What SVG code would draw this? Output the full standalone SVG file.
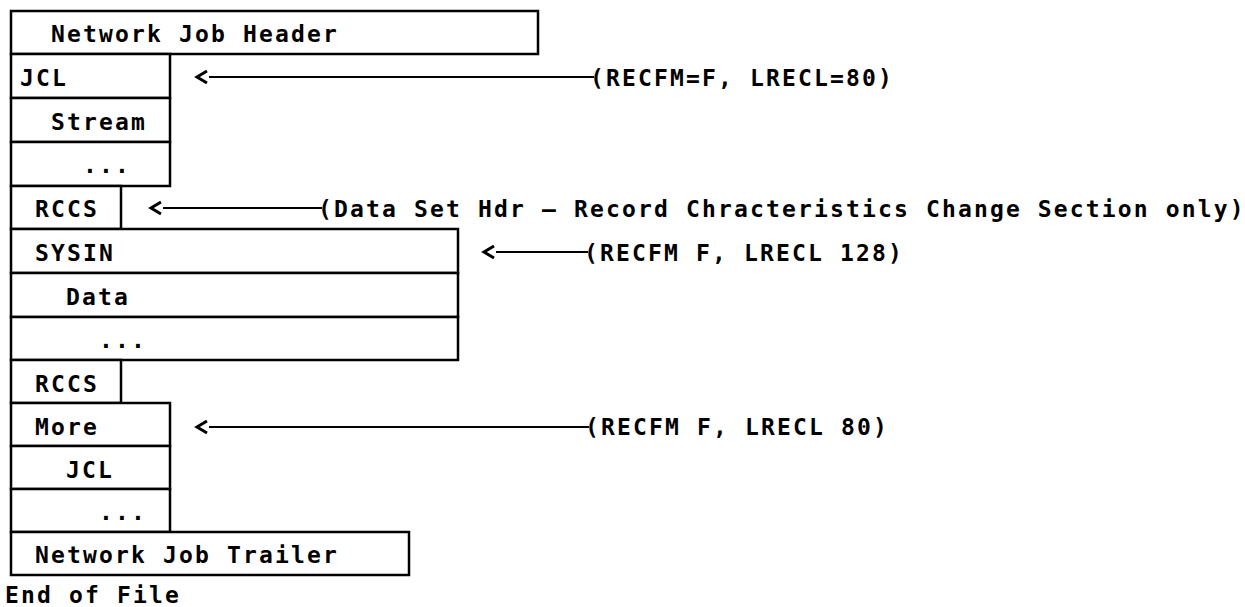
<svg xmlns="http://www.w3.org/2000/svg" width="1245" height="607" viewBox="0 0 1245 607">
<style>
.b{fill:#fff;stroke:#000;stroke-width:2.5}
.t{font-family:"DejaVu Sans Mono","Liberation Mono",monospace;font-weight:bold;font-size:23px;letter-spacing:2.15px;fill:#000}
.c{stroke:#000;stroke-width:2;fill:none;marker-start:url(#lt)}
</style>
<defs>
<marker id="lt" markerUnits="userSpaceOnUse" orient="0" refX="0" refY="0" markerWidth="20" markerHeight="20" overflow="visible">
<path d="M-2,-6 L-12,0 L-2,6" fill="none" stroke="#000" stroke-width="3" stroke-linejoin="miter"/>
</marker>
</defs>
<rect width="1245" height="607" fill="#fff"/>
<g id="header"><rect class="b" x="11" y="11" width="527" height="43"/><text class="t" x="51" y="42">Network Job Header</text></g>
<g id="jcl"><rect class="b" x="11" y="54" width="159" height="44"/><text class="t" x="20" y="86">JCL</text></g>
<g id="stream"><rect class="b" x="11" y="98" width="159" height="44"/><text class="t" x="51" y="130">Stream</text></g>
<g id="dots1"><rect class="b" x="11" y="142" width="159" height="44"/><text class="t" x="83" y="173">...</text></g>
<g id="rccs1"><rect class="b" x="11" y="186" width="110" height="43"/><text class="t" x="35" y="217">RCCS</text></g>
<g id="sysin"><rect class="b" x="11" y="229" width="447" height="44"/><text class="t" x="35" y="261">SYSIN</text></g>
<g id="data"><rect class="b" x="11" y="273" width="447" height="44"/><text class="t" x="66" y="305">Data</text></g>
<g id="dots2"><rect class="b" x="11" y="317" width="447" height="43"/><text class="t" x="99" y="348">...</text></g>
<g id="rccs2"><rect class="b" x="11" y="360" width="110" height="43"/><text class="t" x="35" y="392">RCCS</text></g>
<g id="more"><rect class="b" x="11" y="403" width="159" height="43"/><text class="t" x="35" y="435">More</text></g>
<g id="jcl2"><rect class="b" x="11" y="446" width="159" height="43"/><text class="t" x="66" y="478">JCL</text></g>
<g id="dots3"><rect class="b" x="11" y="489" width="159" height="43"/><text class="t" x="99" y="520">...</text></g>
<g id="trailer"><rect class="b" x="11" y="532" width="398" height="43"/><text class="t" x="35" y="563">Network Job Trailer</text></g>
<g id="eof"><text class="t" x="5" y="603">End of File</text></g>
<g id="connectors">
<line class="c" x1="209" y1="77" x2="594" y2="77"/>
<line class="c" x1="163" y1="208" x2="322" y2="208"/>
<line class="c" x1="496" y1="252" x2="588" y2="252"/>
<line class="c" x1="209" y1="427" x2="589" y2="427"/>
</g>
<g id="labels">
<text class="t" x="590" y="86">(RECFM=F, LRECL=80)</text>
<text class="t" x="318" y="217">(Data Set Hdr – Record Chracteristics Change Section only)</text>
<text class="t" x="584" y="261">(RECFM F, LRECL 128)</text>
<text class="t" x="585" y="435">(RECFM F, LRECL 80)</text>
</g>
</svg>
